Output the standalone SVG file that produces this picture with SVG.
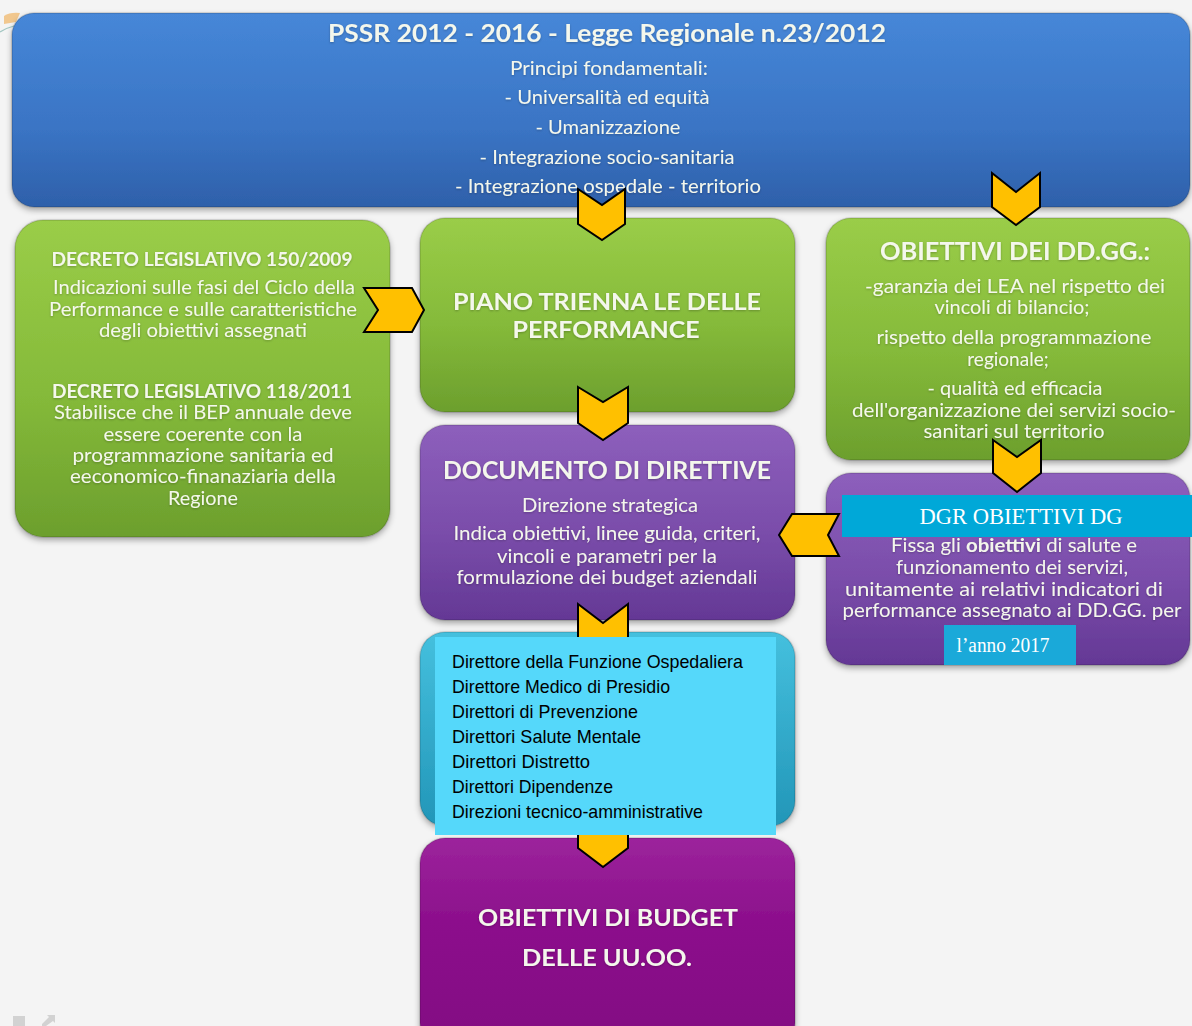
<svg xmlns="http://www.w3.org/2000/svg" width="1192" height="1026" viewBox="0 0 1192 1026">
  <defs>
    <linearGradient id="gBlue" x1="0" y1="0" x2="0" y2="1">
      <stop offset="0" stop-color="#4687d8"/>
      <stop offset="0.6" stop-color="#3a74c4"/>
      <stop offset="1" stop-color="#2e60aa"/>
    </linearGradient>
    <linearGradient id="gGreen" x1="0" y1="0" x2="0" y2="1">
      <stop offset="0" stop-color="#9acd48"/>
      <stop offset="0.55" stop-color="#85ba3a"/>
      <stop offset="1" stop-color="#6c9f2d"/>
    </linearGradient>
    <linearGradient id="gViolet" x1="0" y1="0" x2="0" y2="1">
      <stop offset="0" stop-color="#8d5fbc"/>
      <stop offset="0.55" stop-color="#7a4daa"/>
      <stop offset="1" stop-color="#643895"/>
    </linearGradient>
    <linearGradient id="gTeal" x1="0" y1="0" x2="0" y2="1">
      <stop offset="0" stop-color="#45c0de"/>
      <stop offset="1" stop-color="#2296b8"/>
    </linearGradient>
    <linearGradient id="gMagenta" x1="0" y1="0" x2="0" y2="1">
      <stop offset="0" stop-color="#9c249c"/>
      <stop offset="0.4" stop-color="#8c0f8c"/>
      <stop offset="1" stop-color="#820a82"/>
    </linearGradient>
    <filter id="shadow" x="-5%" y="-5%" width="110%" height="115%">
      <feDropShadow dx="0" dy="3" stdDeviation="3" flood-color="#000" flood-opacity="0.35"/>
    </filter>
    <filter id="glow" x="-5%" y="-20%" width="110%" height="140%">
      <feDropShadow dx="0" dy="1" stdDeviation="1" flood-color="#000" flood-opacity="0.25"/>
    </filter>
  </defs>
  <style>
    .box { filter: url(#shadow); }
    .edge { fill: none; stroke: #000; stroke-opacity: 0.15; stroke-width: 1.5; }
    .lt { font-family: Lato, "Open Sans", "Liberation Sans", sans-serif; fill: #f4f7ec; text-anchor: middle; filter: url(#glow); }
    .b { font-weight: bold; }
    .s19 { font-size: 19px; }
    .s19b { font-size: 19px; font-weight: bold; }
    .s22 { font-size: 23px; }
    .s24 { font-size: 25px; }
    .serif { font-family: "Liberation Serif", "DejaVu Serif", serif; fill: #ffffff; text-anchor: middle; }
    .list { font-family: "Liberation Sans", Arial, sans-serif; font-size: 19px; fill: #000; }
    .chev { fill: #ffc000; stroke: #000; stroke-width: 2; stroke-linejoin: miter; }
  </style>

  <!-- page background with slide remnants -->
  <rect x="0" y="0" width="1192" height="1026" fill="#f4f4f4"/>
  <path d="M4,16 Q10,12 20,13 L16,22 L4,24 Z" fill="#f0b462" opacity="0.7"/>
  <path d="M0,32 Q6,28 14,26" fill="none" stroke="#6aa8a0" stroke-width="1.2" opacity="0.6"/>
  <g fill="#d2d2d2">
    <rect x="13" y="1016" width="12" height="10"/>
    <path d="M42,1024 L49,1017 L47,1015 L55,1015 L55,1023 L53,1021 L46,1026 L42,1026 Z"/>
  </g>

  <!-- PSSR header -->
  <g id="pssr">
    <rect class="box" x="12" y="13" width="1178" height="194" rx="22" fill="url(#gBlue)"/>
    <rect class="edge" x="12" y="13" width="1178" height="194" rx="22"/>
    <text class="lt b s24" x="607" y="42" textLength="558" lengthAdjust="spacingAndGlyphs">PSSR 2012 - 2016 - Legge Regionale n.23/2012</text>
    <text class="lt s19" x="609" y="75" textLength="198" lengthAdjust="spacingAndGlyphs">Principi fondamentali:</text>
    <text class="lt s19" x="607" y="104" textLength="205" lengthAdjust="spacingAndGlyphs">- Universalità ed equità</text>
    <text class="lt s19" x="608" y="134" textLength="145" lengthAdjust="spacingAndGlyphs">- Umanizzazione</text>
    <text class="lt s19" x="607" y="164" textLength="255" lengthAdjust="spacingAndGlyphs">- Integrazione socio-sanitaria</text>
    <text class="lt s19" x="608" y="193" textLength="306" lengthAdjust="spacingAndGlyphs">- Integrazione ospedale - territorio</text>
  </g>

  <!-- legislative references -->
  <g id="decreti">
    <rect class="box" x="15" y="220" width="375" height="317" rx="28" fill="url(#gGreen)"/>
    <rect class="edge" x="15" y="220" width="375" height="317" rx="28"/>
    <text class="lt s19b" x="202" y="266" textLength="301" lengthAdjust="spacingAndGlyphs">DECRETO LEGISLATIVO 150/2009</text>
    <text class="lt s19" x="204" y="294" textLength="302" lengthAdjust="spacingAndGlyphs">Indicazioni sulle fasi del Ciclo della</text>
    <text class="lt s19" x="203" y="316" textLength="308" lengthAdjust="spacingAndGlyphs">Performance e sulle caratteristiche</text>
    <text class="lt s19" x="203" y="337" textLength="208" lengthAdjust="spacingAndGlyphs">degli obiettivi assegnati</text>
    <text class="lt s19b" x="202" y="398" textLength="300" lengthAdjust="spacingAndGlyphs">DECRETO LEGISLATIVO 118/2011</text>
    <text class="lt s19" x="203" y="419" textLength="298" lengthAdjust="spacingAndGlyphs">Stabilisce che il BEP annuale deve</text>
    <text class="lt s19" x="203" y="441" textLength="199" lengthAdjust="spacingAndGlyphs">essere coerente con la</text>
    <text class="lt s19" x="203" y="462" textLength="261" lengthAdjust="spacingAndGlyphs">programmazione sanitaria ed</text>
    <text class="lt s19" x="203" y="483" textLength="266" lengthAdjust="spacingAndGlyphs">eeconomico-finanaziaria della</text>
    <text class="lt s19" x="203" y="505" textLength="70" lengthAdjust="spacingAndGlyphs">Regione</text>
  </g>

  <!-- performance plan -->
  <g id="piano">
    <rect class="box" x="420" y="218" width="375" height="194" rx="25" fill="url(#gGreen)"/>
    <rect class="edge" x="420" y="218" width="375" height="194" rx="25"/>
    <text class="lt b s22" x="607" y="310" textLength="308" lengthAdjust="spacingAndGlyphs">PIANO TRIENNA LE DELLE</text>
    <text class="lt b s22" x="606" y="338" textLength="187" lengthAdjust="spacingAndGlyphs">PERFORMANCE</text>
  </g>

  <!-- general managers' objectives -->
  <g id="obiettivi-ddgg">
    <rect class="box" x="826" y="218" width="364" height="242" rx="25" fill="url(#gGreen)"/>
    <rect class="edge" x="826" y="218" width="364" height="242" rx="25"/>
    <text class="lt b s24" x="1015" y="260" textLength="270" lengthAdjust="spacingAndGlyphs">OBIETTIVI DEI DD.GG.:</text>
    <text class="lt s19" x="1015" y="293" textLength="300" lengthAdjust="spacingAndGlyphs">-garanzia  dei LEA nel rispetto dei</text>
    <text class="lt s19" x="1012" y="314" textLength="155" lengthAdjust="spacingAndGlyphs">vincoli di bilancio;</text>
    <text class="lt s19" x="1014" y="344" textLength="275" lengthAdjust="spacingAndGlyphs">rispetto della programmazione</text>
    <text class="lt s19" x="1008" y="366">regionale;</text>
    <text class="lt s19" x="1015" y="395" textLength="175" lengthAdjust="spacingAndGlyphs">- qualità ed efficacia</text>
    <text class="lt s19" x="1014" y="417" textLength="324" lengthAdjust="spacingAndGlyphs">dell'organizzazione dei servizi socio-</text>
    <text class="lt s19" x="1014" y="438" textLength="181" lengthAdjust="spacingAndGlyphs">sanitari sul territorio</text>
  </g>

  <!-- directives document -->
  <g id="documento">
    <rect class="box" x="420" y="425" width="375" height="195" rx="25" fill="url(#gViolet)"/>
    <rect class="edge" x="420" y="425" width="375" height="195" rx="25"/>
    <text class="lt b s24" x="607" y="479" textLength="328" lengthAdjust="spacingAndGlyphs">DOCUMENTO DI DIRETTIVE</text>
    <text class="lt s19" x="610" y="512" textLength="176" lengthAdjust="spacingAndGlyphs">Direzione strategica</text>
    <text class="lt s19" x="607" y="540" textLength="307" lengthAdjust="spacingAndGlyphs">Indica obiettivi, linee guida, criteri,</text>
    <text class="lt s19" x="607" y="563" textLength="220" lengthAdjust="spacingAndGlyphs">vincoli e parametri per la</text>
    <text class="lt s19" x="607" y="584" textLength="301" lengthAdjust="spacingAndGlyphs">formulazione dei budget aziendali</text>
  </g>

  <!-- regional resolution on DG objectives -->
  <g id="dgr">
    <rect class="box" x="826" y="473" width="364" height="192" rx="25" fill="url(#gViolet)"/>
    <rect class="edge" x="826" y="473" width="364" height="192" rx="25"/>
    <rect x="842" y="495" width="350" height="42" fill="#00a8d8"/>
    <text class="serif" x="1021" y="524" font-size="23" textLength="203" lengthAdjust="spacingAndGlyphs">DGR OBIETTIVI DG</text>
    <text class="lt s19" x="1014" y="552" textLength="246" lengthAdjust="spacingAndGlyphs">Fissa gli <tspan font-weight="bold">obiettivi</tspan> di salute e</text>
    <text class="lt s19" x="1012" y="574" textLength="232" lengthAdjust="spacingAndGlyphs">funzionamento dei servizi,</text>
    <text class="lt s19" x="1004" y="596" textLength="318" lengthAdjust="spacingAndGlyphs">unitamente ai relativi indicatori di</text>
    <text class="lt s19" x="1012" y="617" textLength="339" lengthAdjust="spacingAndGlyphs">performance assegnato ai DD.GG. per</text>
    <rect x="944" y="625" width="132" height="40" fill="#1aa9d9"/>
    <text class="serif" x="1003" y="652" font-size="20" textLength="93" lengthAdjust="spacingAndGlyphs">l’anno 2017</text>
  </g>

  <!-- operational managers -->
  <g id="direttori">
    <rect class="box" x="420" y="632" width="375" height="194" rx="25" fill="url(#gTeal)"/>
    <rect class="edge" x="420" y="632" width="375" height="194" rx="25"/>
  </g>

  <!-- unit budget objectives -->
  <g id="budget-uuoo">
    <rect class="box" x="420" y="838" width="375" height="210" rx="25" fill="url(#gMagenta)"/>
    <rect class="edge" x="420" y="838" width="375" height="210" rx="25"/>
    <text class="lt b s22" x="608" y="926" textLength="260" lengthAdjust="spacingAndGlyphs">OBIETTIVI DI BUDGET</text>
    <text class="lt b s22" x="607" y="966" textLength="170" lengthAdjust="spacingAndGlyphs">DELLE UU.OO.</text>
  </g>

  <!-- chevron connectors -->
  <g id="connectors">
    <polygon class="chev" points="578,189 602,205 625,189 625,224 602,240 578,224"/>
    <polygon class="chev" points="992,173 1016,192 1040,173 1040,207 1016,225 992,207"/>
    <polygon class="chev" points="578,387 603,402 628,387 628,423 603,440 578,423"/>
    <polygon class="chev" points="578,604 603,623 628,604 628,848 603,867 578,848"/>
    <polygon class="chev" points="993,440 1017,457 1041,440 1041,473 1017,492 993,473"/>
    <polygon class="chev" points="364,288 412,288 424,310 412,332 364,332 378,310"/>
    <polygon class="chev" points="779,535 792,514 839,514 828,535 839,556 792,556"/>
  </g>

  <!-- list of directors overlaid on the teal node -->
  <g id="elenco-direttori">
    <rect x="435" y="637" width="341" height="198" fill="#55d8fa"/>
    <text class="list" x="452" y="668" textLength="291" lengthAdjust="spacingAndGlyphs">Direttore della Funzione Ospedaliera</text>
    <text class="list" x="452" y="693" textLength="218" lengthAdjust="spacingAndGlyphs">Direttore Medico di Presidio</text>
    <text class="list" x="452" y="718" textLength="186" lengthAdjust="spacingAndGlyphs">Direttori di Prevenzione</text>
    <text class="list" x="452" y="743" textLength="189" lengthAdjust="spacingAndGlyphs">Direttori  Salute Mentale</text>
    <text class="list" x="452" y="768" textLength="138" lengthAdjust="spacingAndGlyphs">Direttori  Distretto</text>
    <text class="list" x="452" y="793" textLength="161" lengthAdjust="spacingAndGlyphs">Direttori Dipendenze</text>
    <text class="list" x="452" y="818" textLength="251" lengthAdjust="spacingAndGlyphs">Direzioni tecnico-amministrative</text>
  </g>
</svg>
